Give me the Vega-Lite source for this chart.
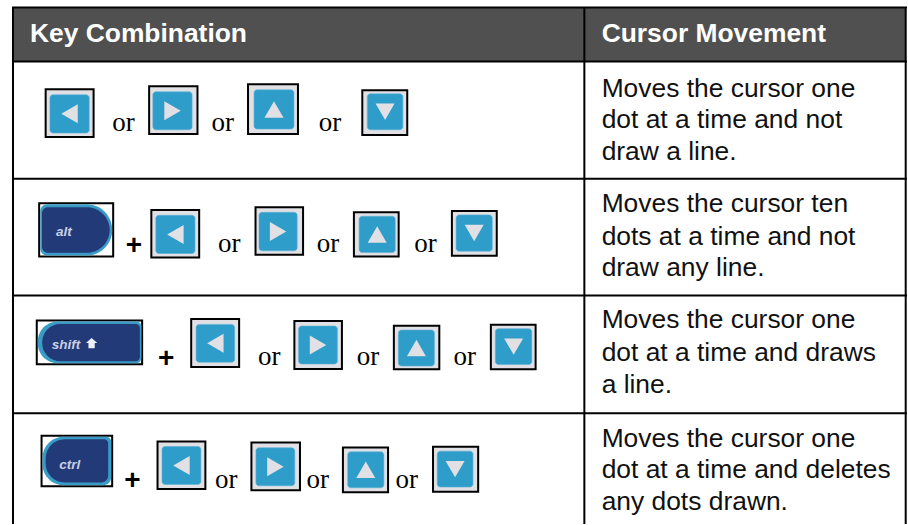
{
"$schema":"https://vega.github.io/schema/vega-lite/v6.json",
"width":908,"height":525,"padding":0,
"autosize":{"type":"fit","contains":"padding"},
"background":"white",
"config":{"view":{"stroke":null}},
"datasets":{
"header":[{"x":13,"x2":906,"y":8,"y2":61}],
"grid":[
{"x":12,"x2":908,"y":7.5,"y2":7.5},{"x":12,"x2":908,"y":61.5,"y2":61.5},{"x":12,"x2":908,"y":179,"y2":179},{"x":12,"x2":908,"y":296,"y2":296},{"x":12,"x2":908,"y":414,"y2":414},
{"x":13,"x2":13,"y":7,"y2":525},{"x":585,"x2":585,"y":7,"y2":525},{"x":906.7,"x2":906.7,"y":7,"y2":525}],
"frames":[
{"key":"left","row":1,"x":45.7,"x2":93.7,"y":89.3,"y2":137.3},{"key":"right","row":1,"x":149.3,"x2":197.7,"y":86.3,"y2":134.3},{"key":"up","row":1,"x":248.3,"x2":298.3,"y":84.3,"y2":134.3},{"key":"down","row":1,"x":362.7,"x2":407.7,"y":90.3,"y2":135.3},
{"key":"left","row":2,"x":151.5,"x2":199.4,"y":210.3,"y2":258},{"key":"right","row":2,"x":255.8,"x2":303.4,"y":207.7,"y2":255.3},{"key":"up","row":2,"x":354.3,"x2":399.1,"y":212.7,"y2":257},{"key":"down","row":2,"x":452.4,"x2":497.3,"y":211.3,"y2":256.3},
{"key":"left","row":3,"x":191.4,"x2":239.4,"y":319.7,"y2":367.7},{"key":"right","row":3,"x":294.7,"x2":342.3,"y":321.7,"y2":369.7},{"key":"up","row":3,"x":394.3,"x2":439.8,"y":326.3,"y2":370},{"key":"down","row":3,"x":491.4,"x2":536.2,"y":325.3,"y2":370},
{"key":"left","row":4,"x":157.7,"x2":205.6,"y":442.3,"y2":490},{"key":"right","row":4,"x":251.7,"x2":300.3,"y":443.3,"y2":491.3},{"key":"up","row":4,"x":343.3,"x2":388.5,"y":448.3,"y2":493.3},{"key":"down","row":4,"x":433.5,"x2":478.7,"y":447.7,"y2":492.7}],
"blue":[
{"key":"left","row":1,"x":50,"x2":89.3,"y":95,"y2":133.3},{"key":"right","row":1,"x":153,"x2":192.3,"y":92,"y2":130},{"key":"up","row":1,"x":254.3,"x2":294.3,"y":90,"y2":129.3},{"key":"down","row":1,"x":367.7,"x2":403.3,"y":94,"y2":130},
{"key":"left","row":2,"x":156,"x2":195.2,"y":215.7,"y2":254},{"key":"right","row":2,"x":259.3,"x2":297.5,"y":212.7,"y2":251.3},{"key":"up","row":2,"x":359.5,"x2":395.7,"y":216.7,"y2":253},{"key":"down","row":2,"x":456.6,"x2":492.8,"y":215.3,"y2":251.7},
{"key":"left","row":3,"x":196.3,"x2":234.9,"y":325,"y2":363},{"key":"right","row":3,"x":298.9,"x2":337.8,"y":326.7,"y2":364.7},{"key":"up","row":3,"x":398.8,"x2":434.9,"y":330.7,"y2":366.7},{"key":"down","row":3,"x":495.9,"x2":532.4,"y":329.3,"y2":365.3},
{"key":"left","row":4,"x":162.2,"x2":201.1,"y":447.3,"y2":485.3},{"key":"right","row":4,"x":256.2,"x2":295.1,"y":448.7,"y2":486.7},{"key":"up","row":4,"x":348.1,"x2":384.3,"y":452.7,"y2":488.7},{"key":"down","row":4,"x":437.7,"x2":473.5,"y":452,"y2":488}],
"arrows":[
{"key":"left","x":69.6,"y":114},{"key":"right","x":172.7,"y":111},{"key":"up","x":274.3,"y":109.7},{"key":"down","x":385.5,"y":112},
{"key":"left","x":175.6,"y":234.9},{"key":"right","x":278.4,"y":232},{"key":"up","x":377.6,"y":234.9},{"key":"down","x":474.7,"y":233.5},
{"key":"left","x":215.6,"y":344},{"key":"right","x":318.4,"y":345.7},{"key":"up","x":416.9,"y":348.7},{"key":"down","x":514.2,"y":347.3},
{"key":"left","x":181.7,"y":466.3},{"key":"right","x":275.7,"y":467.7},{"key":"up","x":366.2,"y":470.7},{"key":"down","x":455.6,"y":470}],
"capFrames":[{"key":"alt","x":39.2,"x2":113.3,"y":203.7,"y2":257},{"key":"shift","x":36.8,"x2":142.3,"y":321,"y2":365},{"key":"ctrl","x":41.6,"x2":112.3,"y":436.7,"y2":487.3}],
"headers":[{"t":"Key Combination","x":30,"y":41.7},{"t":"Cursor Movement","x":602.3,"y":41.7}],
"body":[
{"t":"Moves the cursor one","x":602.3,"y":96.7},{"t":"dot at a time and not","x":602.3,"y":128.3},{"t":"draw a line.","x":602.3,"y":160},
{"t":"Moves the cursor ten","x":602.3,"y":212.3},{"t":"dots at a time and not","x":602.3,"y":245},{"t":"draw any line.","x":602.3,"y":276.7},
{"t":"Moves the cursor one","x":602.3,"y":328.3},{"t":"dot at a time and draws","x":602.3,"y":361.7},{"t":"a line.","x":602.3,"y":394},
{"t":"Moves the cursor one","x":602.3,"y":447.7},{"t":"dot at a time and deletes","x":602.3,"y":479.3},{"t":"any dots drawn.","x":602.3,"y":511}],
"ors":[
{"t":"or","x":112.3,"y":131.7},{"t":"or","x":211.7,"y":131.7},{"t":"or","x":319,"y":131.7},
{"t":"or","x":218.3,"y":252.7},{"t":"or","x":317.1,"y":252.7},{"t":"or","x":414.6,"y":252.7},
{"t":"or","x":258.3,"y":366},{"t":"or","x":357.1,"y":366},{"t":"or","x":453.9,"y":366},
{"t":"or","x":215.2,"y":488.7},{"t":"or","x":306.8,"y":488.7},{"t":"or","x":396,"y":488.7}],
"plus":[{"t":"+","x":134,"y":246},{"t":"+","x":166.3,"y":360},{"t":"+","x":132.6,"y":481.7}],
"capLabels":[{"t":"alt","x":56,"y":236.7},{"t":"shift","x":51.7,"y":349.7},{"t":"ctrl","x":59.3,"y":470}],
"shiftGlyph":[{"x":91.7,"y":343.7}]
},
"encoding":{
"x":{"field":"x","type":"quantitative","axis":null,"scale":{"domain":[0,908],"nice":false,"zero":false}},
"y":{"field":"y","type":"quantitative","axis":null,"scale":{"domain":[525,0],"nice":false,"zero":false}}
},
"layer":[
{"data":{"name":"header"},"mark":{"type":"rect","fill":"#505050"},"encoding":{"x2":{"field":"x2"},"y2":{"field":"y2"}}},
{"data":{"name":"grid"},"mark":{"type":"rule","color":"#000000","strokeWidth":2},"encoding":{"x2":{"field":"x2"},"y2":{"field":"y2"}}},
{"data":{"name":"frames"},"mark":{"type":"rect","fill":"#e1e0e4","stroke":"#000000","strokeWidth":2},"encoding":{"x2":{"field":"x2"},"y2":{"field":"y2"}}},
{"data":{"name":"blue"},"mark":{"type":"rect","fill":"#2e9dca","stroke":"#5db0d6","strokeWidth":0.6,"cornerRadius":3},"encoding":{"x2":{"field":"x2"},"y2":{"field":"y2"}}},
{"data":{"name":"arrows"},"mark":{"type":"point","filled":true,"opacity":1,"size":360,"color":"#e1e0e4"},"encoding":{"shape":{"field":"key","type":"nominal","legend":null,"scale":{"domain":["left","right","up","down"],"range":["triangle-left","triangle-right","triangle-up","triangle-down"]}}}},
{"data":{"name":"capFrames"},"mark":{"type":"rect","fill":"#ffffff","stroke":"#000000","strokeWidth":2},"encoding":{"x2":{"field":"x2"},"y2":{"field":"y2"}}},
{"data":{"values":[{"x":40.3,"x2":112.3,"y":204.7,"y2":256}]},"mark":{"type":"rect","fill":"#3a9cc6","cornerRadiusTopLeft":7,"cornerRadiusBottomLeft":7,"cornerRadiusTopRight":26,"cornerRadiusBottomRight":26},"encoding":{"x2":{"field":"x2"},"y2":{"field":"y2"}}},
{"data":{"values":[{"x":42,"x2":109.8,"y":207.7,"y2":253.3}]},"mark":{"type":"rect","fill":"#223a78","cornerRadiusTopLeft":6,"cornerRadiusBottomLeft":6,"cornerRadiusTopRight":23,"cornerRadiusBottomRight":23},"encoding":{"x2":{"field":"x2"},"y2":{"field":"y2"}}},
{"data":{"values":[{"x":37.8,"x2":141.5,"y":322,"y2":364}]},"mark":{"type":"rect","fill":"#3a9cc6","cornerRadiusTopLeft":20,"cornerRadiusBottomLeft":20,"cornerRadiusTopRight":5,"cornerRadiusBottomRight":5},"encoding":{"x2":{"field":"x2"},"y2":{"field":"y2"}}},
{"data":{"values":[{"x":42.3,"x2":140,"y":324.5,"y2":362}]},"mark":{"type":"rect","fill":"#223a78","cornerRadiusTopLeft":18,"cornerRadiusBottomLeft":18,"cornerRadiusTopRight":4,"cornerRadiusBottomRight":4},"encoding":{"x2":{"field":"x2"},"y2":{"field":"y2"}}},
{"data":{"values":[{"x":42.6,"x2":111.3,"y":437.7,"y2":486.3}]},"mark":{"type":"rect","fill":"#3a9cc6","cornerRadiusTopLeft":21,"cornerRadiusBottomLeft":21,"cornerRadiusTopRight":5,"cornerRadiusBottomRight":8},"encoding":{"x2":{"field":"x2"},"y2":{"field":"y2"}}},
{"data":{"values":[{"x":45.7,"x2":108.3,"y":440,"y2":483.3}]},"mark":{"type":"rect","fill":"#223a78","cornerRadiusTopLeft":19,"cornerRadiusBottomLeft":19,"cornerRadiusTopRight":4,"cornerRadiusBottomRight":7},"encoding":{"x2":{"field":"x2"},"y2":{"field":"y2"}}},
{"data":{"name":"capLabels"},"mark":{"type":"text","font":"Liberation Sans","fontSize":13.5,"fontWeight":"bold","fontStyle":"italic","align":"left","baseline":"alphabetic","color":"#c9d0e6"},"encoding":{"text":{"field":"t"}}},
{"data":{"name":"shiftGlyph"},"mark":{"type":"point","filled":true,"opacity":1,"size":130,"color":"#eef0f7","shape":"M-1,0L0,-0.9L1,0L0.55,0L0.55,0.9L-0.55,0.9L-0.55,0Z"}},
{"data":{"name":"headers"},"mark":{"type":"text","font":"Liberation Sans","fontSize":26.4,"fontWeight":"bold","align":"left","baseline":"alphabetic","color":"#ffffff"},"encoding":{"text":{"field":"t"}}},
{"data":{"name":"body"},"mark":{"type":"text","font":"Liberation Sans","fontSize":26.4,"align":"left","baseline":"alphabetic","color":"#111111"},"encoding":{"text":{"field":"t"}}},
{"data":{"name":"ors"},"mark":{"type":"text","font":"Liberation Serif","fontSize":27,"align":"left","baseline":"alphabetic","color":"#000000"},"encoding":{"text":{"field":"t"}}},
{"data":{"name":"plus"},"mark":{"type":"text","font":"Liberation Sans","fontSize":28,"fontWeight":"bold","align":"center","baseline":"middle","color":"#000000"},"encoding":{"text":{"field":"t"}}}
]
}
